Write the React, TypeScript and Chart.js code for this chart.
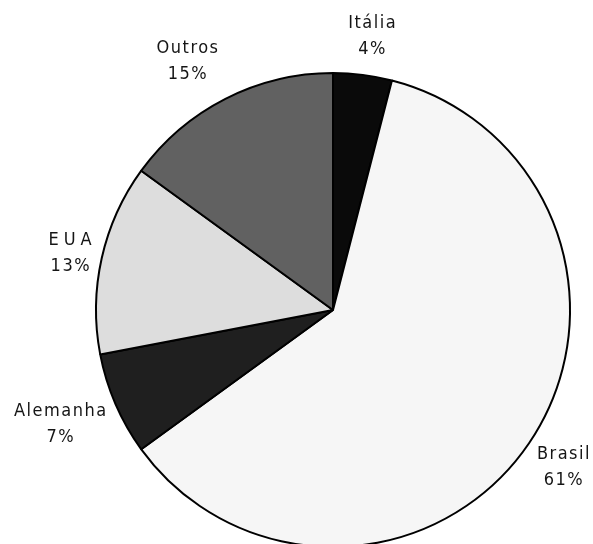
import React, { useEffect, useRef } from "react";
import { Chart, registerables } from "chart.js";

Chart.register(...registerables);

const categories = ["Itália", "Brasil", "Alemanha", "EUA", "Outros"];
const shares = [4, 61, 7, 13, 15];
const percentLabels = ["4%", "61%", "7%", "13%", "15%"];
const sliceColors = ["#0a0a0a", "#f6f6f6", "#1f1f1f", "#dddddd", "#616161"];

// label styling / placement (distance beyond the rim in px, angular nudge in degrees)
const nameSpacing = [1.5, 1.5, 1.5, 5, 1.5];
const labelDistance = [39, 42, 59, 32, 51];
const labelAngleNudge = [0.9, 0.2, 0.6, -0.4, -3.4];

const FONT = '18px "Liberation Sans Narrow", "DejaVu Sans Condensed", sans-serif';
const LINE_H = 26;

const labelPlugin = {
  id: "outsideLabels",
  afterDatasetsDraw(chart: any) {
    const ctx = chart.ctx as CanvasRenderingContext2D;
    const meta = chart.getDatasetMeta(0);
    meta.data.forEach((arc: any, i: number) => {
      const { x, y, startAngle, endAngle, outerRadius } = arc.getProps(
        ["x", "y", "startAngle", "endAngle", "outerRadius"],
        true
      );
      const mid = (startAngle + endAngle) / 2 + (labelAngleNudge[i] * Math.PI) / 180;
      const dist = outerRadius + labelDistance[i];
      const cx = x + Math.cos(mid) * dist;
      const cy = y + Math.sin(mid) * dist;
      ctx.save();
      ctx.font = FONT;
      ctx.fillStyle = "#151515";
      ctx.textAlign = "center";
      ctx.textBaseline = "middle";
      (ctx as any).letterSpacing = nameSpacing[i] + "px";
      ctx.fillText(categories[i], cx + nameSpacing[i] / 2, cy - LINE_H / 2);
      (ctx as any).letterSpacing = "1.5px";
      ctx.fillText(percentLabels[i], cx + 0.75, cy + LINE_H / 2);
      ctx.restore();
    });
  },
};

export default function App() {
  const canvasRef = useRef<HTMLCanvasElement | null>(null);

  useEffect(() => {
    if (!canvasRef.current) return;
    const chart = new Chart(canvasRef.current, {
      type: "pie",
      data: {
        labels: categories,
        datasets: [
          {
            data: shares,
            backgroundColor: sliceColors,
            borderColor: "#000000",
            borderWidth: 2,
          },
        ],
      },
      options: {
        responsive: false,
        animation: false,
        devicePixelRatio: 1,
        layout: { padding: { top: 72, left: 95, right: 22, bottom: 12 } },
        plugins: {
          legend: { display: false },
          tooltip: { enabled: false },
        },
      },
      plugins: [labelPlugin],
    });
    return () => chart.destroy();
  }, []);

  return (
    <div
      style={{
        position: "fixed",
        left: 0,
        top: 0,
        width: 593,
        height: 544,
        overflow: "hidden",
        background: "#ffffff",
      }}
    >
      <canvas ref={canvasRef} width={593} height={560} style={{ display: "block" }} />
    </div>
  );
}
